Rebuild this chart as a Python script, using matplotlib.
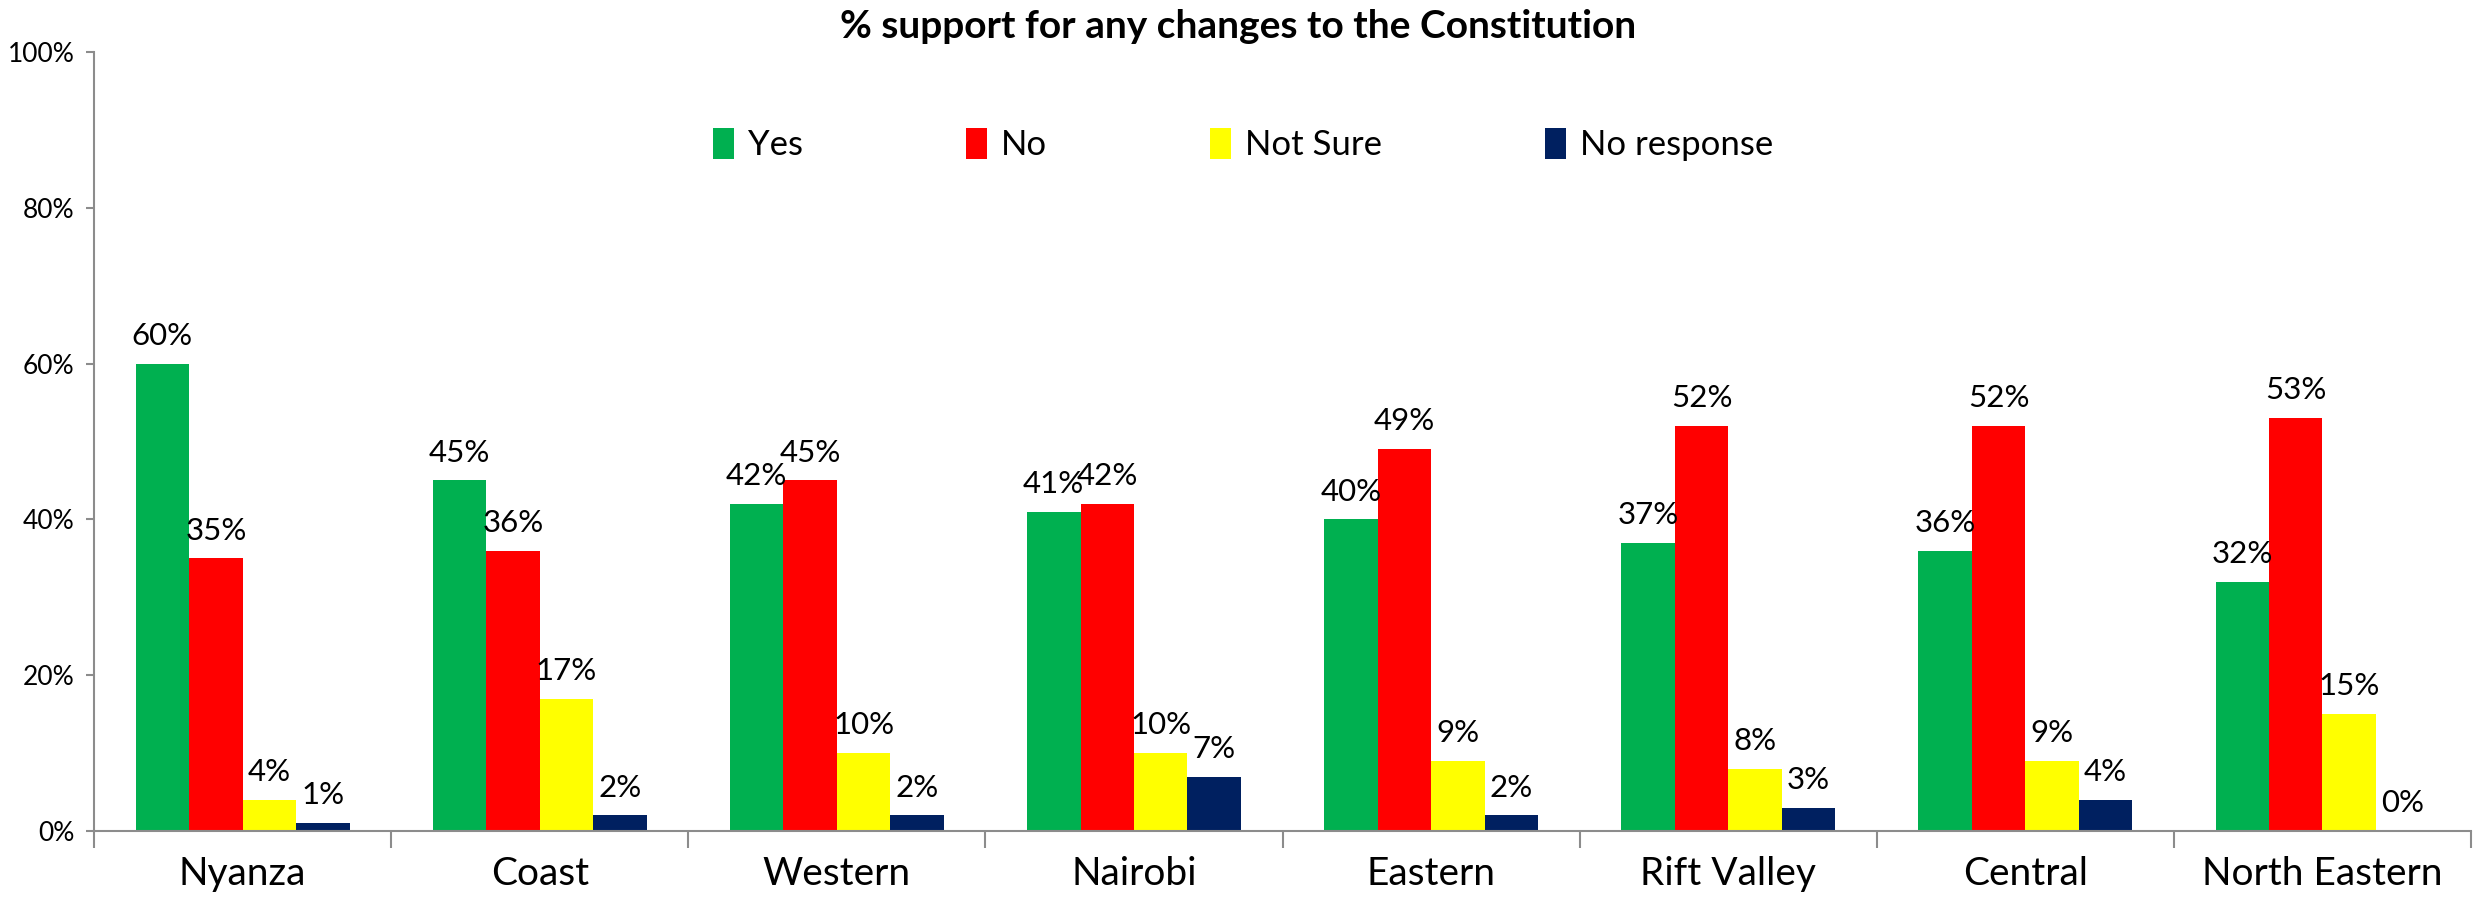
# Third party modules #
import numpy as np
import matplotlib
matplotlib.use('Agg')
import matplotlib.pyplot as plt
from matplotlib.ticker import FuncFormatter, FixedLocator

# Data #
regions     = ['Nyanza', 'Coast', 'Western', 'Nairobi', 'Eastern', 'Rift Valley', 'Central', 'North Eastern']
yes         = [60, 45, 42, 41, 40, 37, 36, 32]
no          = [35, 36, 45, 42, 49, 52, 52, 53]
not_sure    = [4, 17, 10, 10, 9, 8, 9, 15]
no_response = [1, 2, 2, 7, 2, 3, 4, 0]
series_names = ['Yes', 'No', 'Not Sure', 'No response']
colors = ['#00B050', '#FF0000', '#FFFF00', '#002060']

################################################################################
plt.rcParams['font.family'] = ['Lato', 'DejaVu Sans']
fig = plt.figure(figsize=(24.76, 8.99), dpi=100)
ax = fig.add_axes([0.038, 0.0756, 0.960, 0.8665])

# Bars #
x = np.arange(len(regions))
width = 0.18
for i, (name, vals, col) in enumerate(zip(series_names, [yes, no, not_sure, no_response], colors)):
    pos = x + (i - 1.5) * width
    ax.bar(pos, np.array(vals) / 100.0, width, color=col, label=name, zorder=2)
    for p, v in zip(pos, vals):
        ax.annotate('%d%%' % v, (p, v / 100.0), xytext=(0, 10), textcoords='offset points',
                    ha='center', va='bottom', fontsize=22.5)

# Axes #
ax.set_xlim(-0.5, len(regions) - 0.5)
ax.set_ylim(0, 1.0)
ax.set_yticks(np.arange(0, 1.01, 0.2))
ax.yaxis.set_major_formatter(FuncFormatter(lambda y, pos: '%d%%' % round(y * 100)))
ax.set_xticks(x)
ax.set_xticklabels(regions, fontsize=28)
ax.xaxis.set_minor_locator(FixedLocator(np.arange(-0.5, len(regions), 1.0)))
ax.tick_params(axis='x', which='major', length=0, pad=18)
ax.tick_params(axis='x', which='minor', length=12, width=1.5, color='#8c8c8c')
ax.tick_params(axis='y', labelsize=19, length=6, width=1.5, color='#8c8c8c', pad=8)
for side in ('top', 'right'): ax.spines[side].set_visible(False)
for side in ('left', 'bottom'):
    ax.spines[side].set_color('#8c8c8c')
    ax.spines[side].set_linewidth(1.5)

# Title and legend #
fig.text(0.5, 0.97, '% support for any changes to the Constitution', ha='center', va='center',
         fontsize=28, fontweight='bold')
ax.legend(ncol=4, loc='center', bbox_to_anchor=(0.502, 0.839), bbox_transform=fig.transFigure,
          frameon=False, fontsize=25, handlelength=0.6, handleheight=1.0, handletextpad=0.4,
          columnspacing=4.7)

fig.savefig('out.png', dpi=100)
